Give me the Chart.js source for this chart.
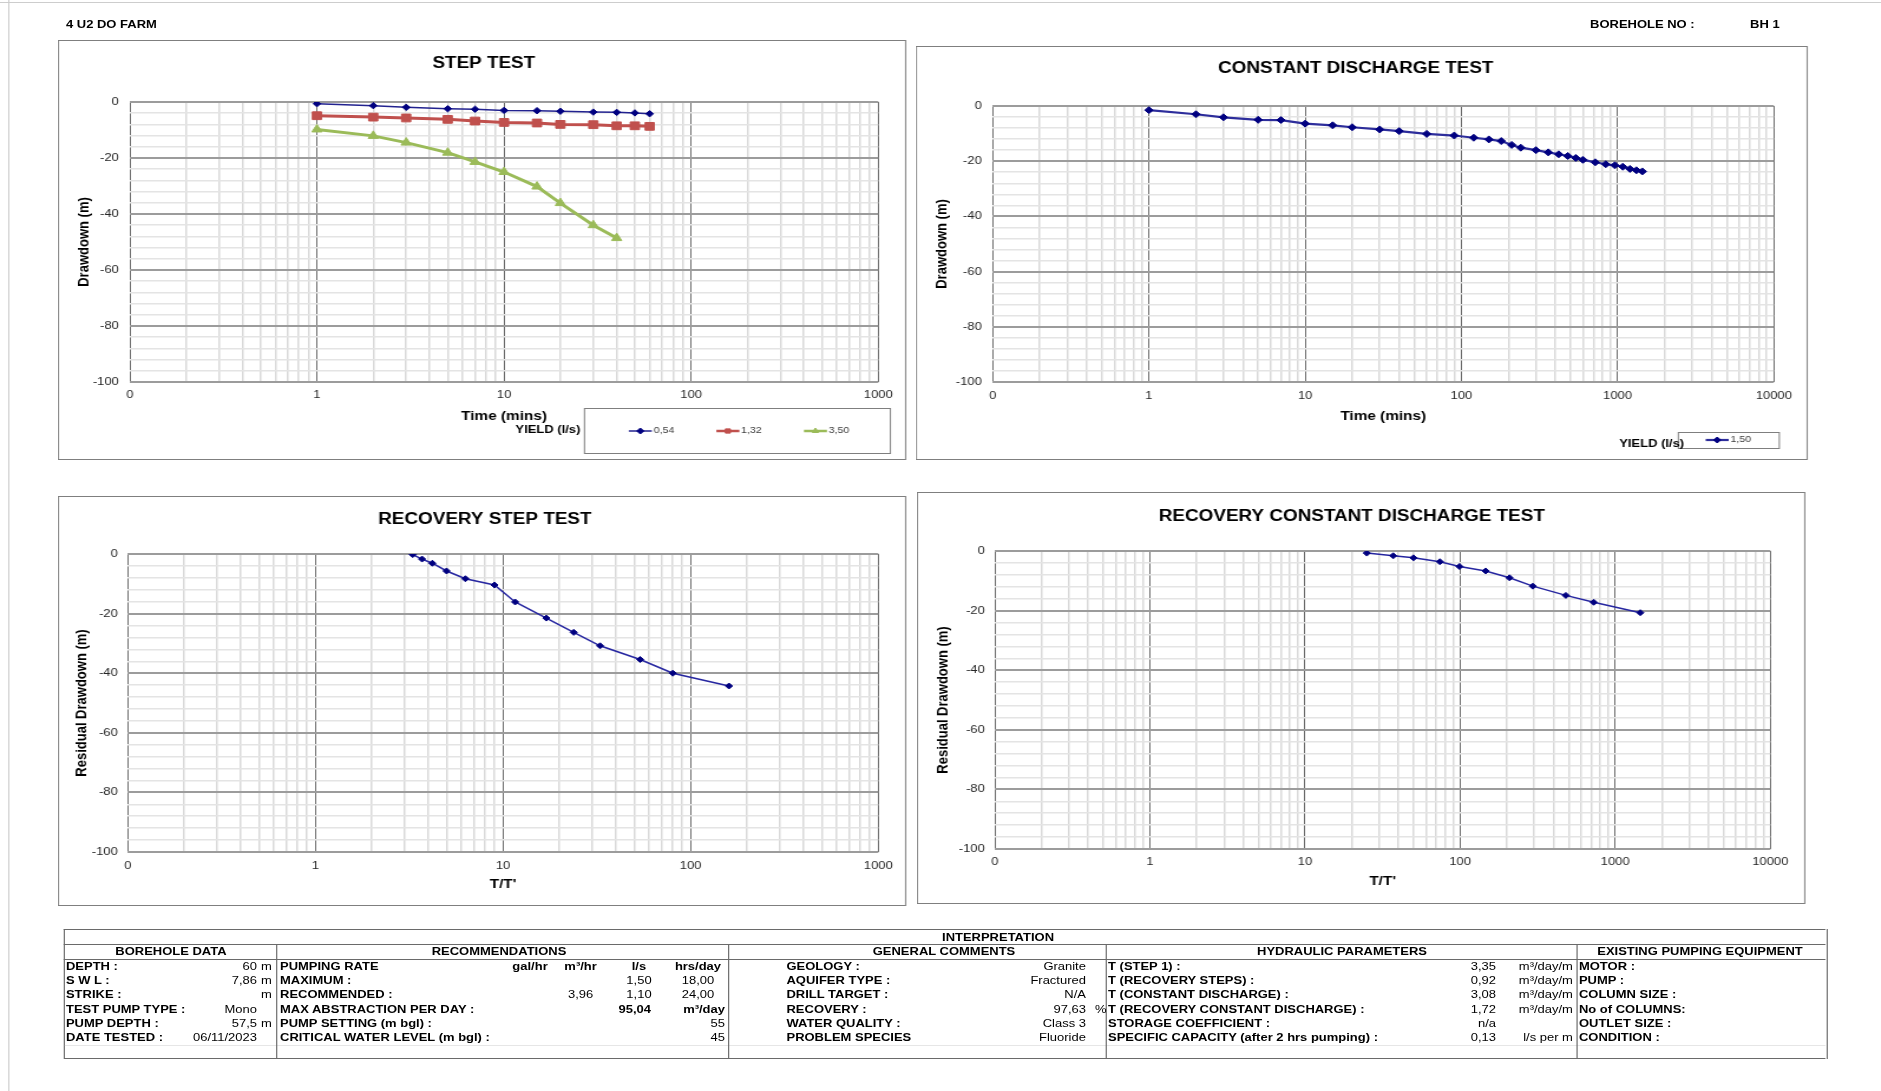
<!DOCTYPE html>
<html><head><meta charset="utf-8">
<script src="https://cdn.jsdelivr.net/npm/chart.js@4.4.1/dist/chart.umd.min.js"></script>
<style>
html,body{margin:0;padding:0;background:#fff;overflow:hidden;width:1881px;height:1091px;}
#page{position:absolute;left:0;top:0;width:1594px;height:1091px;transform:scaleX(1.18);transform-origin:0 0;font-family:'Liberation Sans',Arial,sans-serif;color:#000;}
.box{position:absolute;border:1px solid #7f7f7f;box-sizing:border-box;pointer-events:none;}
canvas{position:absolute;}
.t{position:absolute;font-size:11px;line-height:13px;white-space:nowrap;}
.b{font-weight:bold;}
.ln{position:absolute;background:#6a6a6a;}
.fl{position:absolute;background:#e6e6e6;}
.fr{position:absolute;background:#cdcdcd;}
</style></head><body><div id="page"></div>
<script>
const S = 1.18;

// ---------- chart data ----------
const stepTimes = [1, 2, 3, 5, 7, 10, 15, 20, 30, 40, 50, 60];
const step054 = [-0.6, -1.3, -1.9, -2.4, -2.6, -3.0, -3.1, -3.3, -3.6, -3.7, -3.9, -4.2];
const step132 = [-4.9, -5.4, -5.7, -6.2, -6.8, -7.3, -7.5, -8.0, -8.1, -8.5, -8.5, -8.7];
const step350 = [-9.8, -12.1, -14.5, -18.1, -21.4, -25.0, -30.2, -36.1, -44.0, -48.6];
const stepLabels = ['0,54', '1,32', '3,50'];

const cdTimes = [1, 2, 3, 5, 7, 10, 15, 20, 30, 40, 60, 90, 120, 150, 180, 210, 240, 300, 360, 420, 480, 540, 600, 720, 840, 960, 1080, 1200, 1320, 1440];
const cdDrawdown = [-1.5, -3.0, -4.1, -5.0, -5.1, -6.4, -7.0, -7.7, -8.5, -9.1, -10.1, -10.7, -11.5, -12.1, -12.7, -14.1, -15.1, -16.0, -16.8, -17.5, -18.1, -18.8, -19.5, -20.4, -21.1, -21.5, -22.0, -22.8, -23.3, -23.7];
const cdLabel = '1,50';

const rsRatio = [3.3, 3.7, 4.2, 5.0, 6.3, 9.0, 11.6, 17.0, 23.8, 32.9, 53.8, 80.3, 160];
const rsResidual = [-0.2, -1.7, -3.1, -5.7, -8.3, -10.4, -16.1, -21.5, -26.3, -30.8, -35.4, -40.0, -44.3];

const rcRatio = [25, 37, 50, 74, 99, 146, 208, 294, 480, 726, 1450];
const rcResidual = [-0.7, -1.6, -2.3, -3.6, -5.2, -6.7, -9.0, -11.8, -14.9, -17.2, -20.7];

const yTickValues = [0, -20, -40, -60, -80, -100];
const yTickLabels = ['0', '-20', '-40', '-60', '-80', '-100'];
const stepDecades = [0.1, 1, 10, 100, 1000];
const stepDecadeLabels = ['0', '1', '10', '100', '1000'];
const cdDecades = [0.1, 1, 10, 100, 1000, 10000];
const cdDecadeLabels = ['0', '1', '10', '100', '1000', '10000'];

// ---------- table content ----------
const boreholeLabels = ['DEPTH :', 'S W L :', 'STRIKE :', 'TEST PUMP TYPE :', 'PUMP DEPTH :', 'DATE TESTED :'];
const boreholeValues = ['60', '7,86', '', 'Mono', '57,5', '06/11/2023'];
const boreholeUnits = ['m', 'm', 'm', '', 'm', ''];
const recLabels = ['PUMPING RATE', 'MAXIMUM :', 'RECOMMENDED :', 'MAX ABSTRACTION PER DAY :', 'PUMP SETTING (m bgl) :', 'CRITICAL WATER LEVEL (m bgl) :'];
const rateHeaders = ['gal/hr', 'm³/hr', 'l/s', 'hrs/day'];
const rateMaximum = ['', '', '1,50', '18,00'];
const rateRecommended = ['', '3,96', '1,10', '24,00'];
const maxAbstraction = ['95,04', 'm³/day'];
const pumpSetting = '55';
const criticalLevel = '45';
const commentLabels = ['GEOLOGY :', 'AQUIFER TYPE :', 'DRILL TARGET :', 'RECOVERY :', 'WATER QUALITY :', 'PROBLEM SPECIES'];
const commentValues = ['Granite', 'Fractured', 'N/A', '97,63', 'Class 3', 'Fluoride'];
const hydraulicLabels = ['T (STEP 1) :', 'T (RECOVERY STEPS) :', 'T (CONSTANT DISCHARGE) :', 'T (RECOVERY CONSTANT DISCHARGE) :', 'STORAGE COEFFICIENT :', 'SPECIFIC CAPACITY (after 2 hrs pumping) :'];
const hydraulicValues = ['3,35', '0,92', '3,08', '1,72', 'n/a', '0,13'];
const hydraulicUnits = ['m³/day/m', 'm³/day/m', 'm³/day/m', 'm³/day/m', '', 'l/s per m'];
const equipmentLabels = ['MOTOR :', 'PUMP :', 'COLUMN SIZE :', 'No of COLUMNS:', 'OUTLET SIZE :', 'CONDITION :'];

const page = document.getElementById('page');
const FONT = "'Liberation Sans', Arial, sans-serif";
Chart.defaults.font.family = FONT;
Chart.defaults.animation = false;

function pts(xs, ys) { return ys.map((y, i) => ({ x: xs[i], y })); }
function isDecade(v) { const l = Math.log10(v); return Math.abs(l - Math.round(l)) < 1e-6; }

const boxLegend = {
  id: 'boxLegend',
  afterDraw(chart, args, o) {
    if (!o || !o.box) return;
    const ctx = chart.ctx;
    ctx.save();
    ctx.fillStyle = '#fff';
    ctx.fillRect(o.box[0], o.box[1], o.box[2], o.box[3]);
    ctx.strokeStyle = '#7f7f7f'; ctx.lineWidth = 1;
    ctx.strokeRect(o.box[0] + 0.5, o.box[1] + 0.5, o.box[2], o.box[3]);
    ctx.fillStyle = '#000'; ctx.font = 'bold 11px ' + FONT;
    ctx.textAlign = 'center'; ctx.textBaseline = 'middle';
    ctx.fillText(o.title, o.titleX, o.titleY);
    chart.data.datasets.forEach((ds, i) => {
      const x0 = o.itemX + i * o.itemStep, y = o.itemY;
      ctx.strokeStyle = ds.borderColor; ctx.lineWidth = Math.min(ds.borderWidth, 2.5);
      ctx.beginPath(); ctx.moveTo(x0, y); ctx.lineTo(x0 + o.lineLen, y); ctx.stroke();
      ctx.fillStyle = ds.pointBackgroundColor; ctx.strokeStyle = ds.pointBorderColor; ctx.lineWidth = 1;
      Chart.helpers.drawPoint(ctx, { pointStyle: ds.pointStyle, radius: Math.min(ds.pointRadius, 3), borderWidth: 1, rotation: 0 }, x0 + o.lineLen / 2, y);
      ctx.fillStyle = '#404040'; ctx.font = '9px ' + FONT; ctx.textAlign = 'left';
      ctx.fillText(ds.label, x0 + o.lineLen + 1.5, y);
    });
    ctx.restore();
  }
};

// centres the chart title on a chosen x inside the frame
const titleShift = {
  id: 'titleShift',
  afterLayout(chart, args, o) {
    if (!o || o.x === undefined || !chart.titleBlock) return;
    const w = chart.width;
    chart.titleBlock.left = o.x - w / 2;
    chart.titleBlock.right = o.x + w / 2;
    chart.titleBlock.width = w;
  }
};

function makeChart(c) {
  const L = c.box[0] / S, W = Math.round(c.box[2] / S), T = c.box[1], H = c.box[3];
  const cv = document.createElement('canvas');
  cv.width = W; cv.height = H;
  cv.style.left = L + 'px'; cv.style.top = T + 'px';
  cv.style.width = W + 'px'; cv.style.height = H + 'px';
  page.appendChild(cv);
  const fr = document.createElement('div');
  fr.className = 'box';
  fr.style.left = L + 'px'; fr.style.top = T + 'px'; fr.style.width = W + 'px'; fr.style.height = H + 'px';
  page.appendChild(fr);
  const dec = c.decades, decL = c.decadeLabels, p = c.p;
  new Chart(cv, {
    type: 'scatter',
    data: { datasets: c.datasets },
    options: {
      responsive: false, animation: false,
      layout: { padding: { left: 0, top: 0, right: p.right, bottom: p.bottom } },
      plugins: {
        legend: { display: false }, tooltip: { enabled: false },
        title: { display: true, text: c.title, color: '#000', font: { size: 16, weight: 'bold' }, padding: { top: p.titleTop, bottom: p.titleBottom } },
        boxLegend: c.legend || false,
        titleShift: { x: p.titleX }
      },
      scales: {
        x: {
          type: 'logarithmic', min: dec[0], max: dec[dec.length - 1],
          afterBuildTicks: s => {
            const t = [];
            for (let i = 0; i < dec.length - 1; i++) for (let m = 1; m <= 9; m++) t.push({ value: dec[i] * m });
            t.push({ value: dec[dec.length - 1] });
            s.ticks = t;
          },
          afterFit: s => { s.height = p.xH; s.paddingLeft = 0; s.paddingRight = 0; },
          ticks: {
            autoSkip: false, maxRotation: 0, minRotation: 0, padding: p.xTickPad, color: '#262626', font: { size: 11 },
            callback: v => { const i = dec.findIndex(d => Math.abs(d - v) / d < 1e-6); return i >= 0 ? decL[i] : ''; }
          },
          grid: {
            drawTicks: false,
            color: k => isDecade(k.tick.value) ? '#6a6a6a' : '#d9d9d9',
            lineWidth: k => isDecade(k.tick.value) ? 1 : 1.5
          },
          border: { display: false },
          title: { display: true, text: c.xTitle, color: '#000', font: { size: 13, weight: 'bold' }, padding: { top: 0, bottom: 0 } }
        },
        y: {
          type: 'linear', min: -100, max: 0,
          afterFit: s => { s.width = p.yW; s.paddingTop = 0; s.paddingBottom = 0; },
          ticks: {
            stepSize: 4, autoSkip: false, padding: p.yTickPad, color: '#262626', font: { size: 11 },
            callback: v => { const r = Math.round(v); const i = yTickValues.indexOf(r); return (i >= 0 && Math.abs(v - r) < 1e-6) ? yTickLabels[i] : ''; }
          },
          grid: {
            drawTicks: false,
            color: k => Math.abs(k.tick.value % 20) < 1e-6 ? '#9c9c9c' : '#e4e4e4',
            lineWidth: k => Math.abs(k.tick.value % 20) < 1e-6 ? 2 : 1.5
          },
          border: { display: false },
          title: { display: true, text: c.yTitle, color: '#000', font: { size: 13, weight: 'bold' }, padding: { top: p.yTitlePad, bottom: 0 } }
        }
      }
    },
    plugins: [boxLegend, titleShift]
  });
}

function series(label, data, color, width, style, radius, ptColor) {
  return {
    label, data, showLine: true, borderColor: color, borderWidth: width, tension: 0,
    pointStyle: style, pointRadius: radius, pointBackgroundColor: ptColor, pointBorderColor: ptColor, pointBorderWidth: 1
  };
}

// STEP TEST
makeChart({
  box: [58, 40, 849, 420], title: 'STEP TEST', xTitle: 'Time (mins)', yTitle: 'Drawdown (m)',
  decades: stepDecades, decadeLabels: stepDecadeLabels,
  p: { right: 23.7, bottom: 36.2, titleTop: 14.4, titleBottom: 28.4, titleX: 361, yW: 61.0, yTitlePad: 14.2, yTickPad: 9.3, xH: 41.8, xTickPad: 6.4 },
  datasets: [
    series(stepLabels[0], pts(stepTimes, step054), '#22228f', 1.5, 'rectRot', 3.2, '#000080'),
    series(stepLabels[1], pts(stepTimes, step132), '#c0504d', 3, 'rect', 5.5, '#c0504d'),
    series(stepLabels[2], pts(stepTimes, step350), '#9bbb59', 3, 'triangle', 5, '#9bbb59')
  ],
  legend: { box: [445.8, 368, 259.3, 45], title: 'YIELD (l/s)', titleX: 415.3, titleY: 390, itemX: 483.9, itemStep: 74.2, itemY: 391, lineLen: 19.5 }
});

// CONSTANT DISCHARGE TEST
makeChart({
  box: [916, 46, 892, 414], title: 'CONSTANT DISCHARGE TEST', xTitle: 'Time (mins)', yTitle: 'Drawdown (m)',
  decades: cdDecades, decadeLabels: cdDecadeLabels,
  p: { right: 28.8, bottom: 36.2, titleTop: 13.4, titleBottom: 27.4, titleX: 372.9, yW: 65.3, yTitlePad: 14.2, yTickPad: 9.3, xH: 41.8, xTickPad: 7.4 },
  datasets: [
    series(cdLabel, pts(cdTimes, cdDrawdown), '#2d2d9b', 2.2, 'rectRot', 3.5, '#000080')
  ],
  legend: { box: [645.8, 386, 85.6, 16], title: 'YIELD (l/s)', titleX: 623.7, titleY: 398, itemX: 669.5, itemStep: 0, itemY: 394, lineLen: 19.5 }
});

// RECOVERY STEP TEST
makeChart({
  box: [58, 496, 849, 410], title: 'RECOVERY STEP TEST', xTitle: "T/T'", yTitle: 'Residual Drawdown (m)',
  decades: stepDecades, decadeLabels: stepDecadeLabels,
  p: { right: 23.7, bottom: 14.2, titleTop: 13.6, titleBottom: 25.2, titleX: 361.9, yW: 59.3, yTitlePad: 12.5, yTickPad: 8.5, xH: 39.8, xTickPad: 7.4 },
  datasets: [
    series('Recovery', pts(rsRatio, rsResidual), '#2626a0', 1.5, 'rectRot', 3, '#000080')
  ]
});

// RECOVERY CONSTANT DISCHARGE TEST
makeChart({
  box: [917, 492, 889, 412], title: 'RECOVERY CONSTANT DISCHARGE TEST', xTitle: "T/T'", yTitle: 'Residual Drawdown (m)',
  decades: cdDecades, decadeLabels: cdDecadeLabels,
  p: { right: 29.7, bottom: 15.2, titleTop: 14.6, titleBottom: 25.2, titleX: 368.6, yW: 66.1, yTitlePad: 15.1, yTickPad: 8.5, xH: 39.8, xTickPad: 6.4 },
  datasets: [
    series('Recovery', pts(rcRatio, rcResidual), '#2626a0', 1.5, 'rectRot', 3, '#000080')
  ]
});

// ---------- page text & table ----------
function put(txt, x, y, align, bold, size) {
  const d = document.createElement('div');
  d.className = 't' + (bold ? ' b' : '');
  d.textContent = txt;
  d.style.left = x + 'px';
  d.style.top = (y - 6.5) + 'px';
  if (size) d.style.fontSize = size + 'px';
  if (align === 'r') d.style.transform = 'translateX(-100%)';
  else if (align === 'c') d.style.transform = 'translateX(-50%)';
  page.appendChild(d);
}
function line(cls, x, y, w, h) {
  const d = document.createElement('div');
  d.className = cls;
  d.style.left = x + 'px'; d.style.top = y + 'px'; d.style.width = w + 'px'; d.style.height = h + 'px';
  page.appendChild(d);
}

// sheet frame
line('fr', 6.8, 0, 1, 1091);
line('fr', 0, 2, 1594, 1);

put('4 U2 DO FARM', 55.9, 24, 'l', true);
put('BOREHOLE NO :', 1347.5, 24, 'l', true);
put('BH 1', 1483.1, 24, 'l', true);

// table frame
const tL = 54.2, tR = 1547.5, tT = 929, tB = 1058;
line('ln', tL, tT, tR - tL, 1);
line('ln', tL, tB, tR - tL, 1);
line('ln', tL, tT, 1, tB - tT);
line('ln', tR, tT, 1, tB - tT + 1);
line('ln', tL, 944, tR - tL, 1);
line('ln', tL, 958.5, tR - tL, 1);
line('fl', tL + 1, 1045, tR - tL - 1, 1);
[233.9, 616.9, 937.3, 1335.6].forEach(x => line('ln', x, 944, 1, tB - 944));

put('INTERPRETATION', 845.8, 937, 'c', true);
put('BOREHOLE DATA', 144.9, 951.3, 'c', true);
put('RECOMMENDATIONS', 422.9, 951.3, 'c', true);
put('GENERAL COMMENTS', 800.0, 951.3, 'c', true);
put('HYDRAULIC PARAMETERS', 1137.3, 951.3, 'c', true);
put('EXISTING PUMPING EQUIPMENT', 1440.7, 951.3, 'c', true);

const rowY = [966.5, 980.7, 994.9, 1009.1, 1023.3, 1037.5];
const rateX = [449.2, 492.0, 541.5, 591.5];
rowY.forEach((y, i) => {
  put(boreholeLabels[i], 55.9, y, 'l', true);
  if (boreholeValues[i]) put(boreholeValues[i], 217.8, y, 'r', false);
  if (boreholeUnits[i]) put(boreholeUnits[i], 221.2, y, 'l', false);
  put(recLabels[i], 237.3, y, 'l', true);
  put(commentLabels[i], 666.5, y, 'l', true);
  put(commentValues[i], 920.3, y, 'r', false);
  put(hydraulicLabels[i], 939.0, y, 'l', true);
  put(hydraulicValues[i], 1267.8, y, 'r', false);
  if (hydraulicUnits[i]) put(hydraulicUnits[i], 1333.0, y, 'r', false);
  put(equipmentLabels[i], 1338.1, y, 'l', true);
});
rateHeaders.forEach((h, j) => put(h, rateX[j], rowY[0], 'c', true));
rateMaximum.forEach((v, j) => { if (v) put(v, rateX[j], rowY[1], 'c', false); });
rateRecommended.forEach((v, j) => { if (v) put(v, rateX[j], rowY[2], 'c', false); });
put(maxAbstraction[0], 551.7, rowY[3], 'r', true);
put(maxAbstraction[1], 614.4, rowY[3], 'r', true);
put(pumpSetting, 614.4, rowY[4], 'r', false);
put(criticalLevel, 614.4, rowY[5], 'r', false);
put('%', 928.0, rowY[3], 'l', false);
</script>
</body></html>
